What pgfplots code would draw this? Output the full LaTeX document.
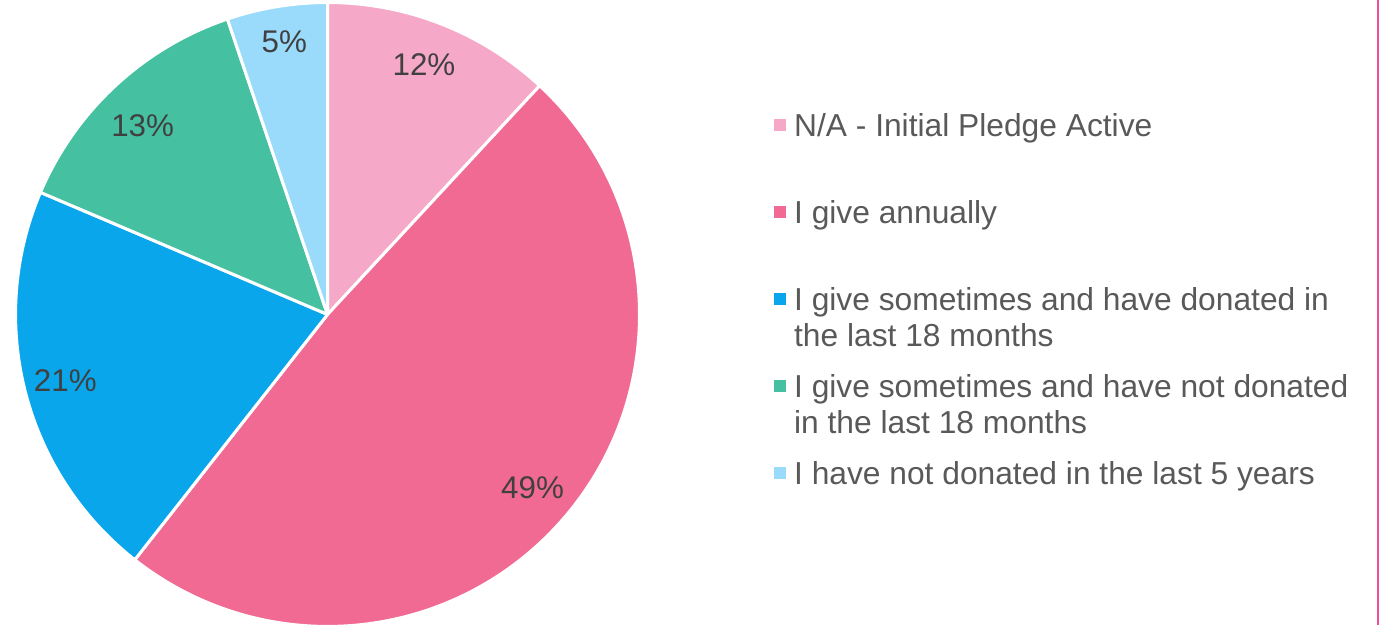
\documentclass[border=0pt]{standalone}
\usepackage{fontspec}
\setmainfont{Liberation Sans}
\usepackage{pgfplots}
\usepackage{pgfplotstable}
\pgfplotsset{compat=1.18}

\definecolor{cA}{HTML}{F6A8C8}
\definecolor{cB}{HTML}{F06A93}
\definecolor{cC}{HTML}{0AA6EC}
\definecolor{cD}{HTML}{45C1A2}
\definecolor{cE}{HTML}{9ADAFB}
\definecolor{lbl}{HTML}{404040}
\definecolor{leg}{HTML}{595959}
\definecolor{rline}{HTML}{F04E98}

\pgfplotstableread{
val lab
11.9 12
48.7 49
20.8 21
13.4 13
5.2 5
}\piedata

\pgfplotstablegetelem{0}{val}\of\piedata \edef\vA{\pgfplotsretval}
\pgfplotstablegetelem{1}{val}\of\piedata \edef\vB{\pgfplotsretval}
\pgfplotstablegetelem{2}{val}\of\piedata \edef\vC{\pgfplotsretval}
\pgfplotstablegetelem{3}{val}\of\piedata \edef\vD{\pgfplotsretval}
\pgfplotstablegetelem{4}{val}\of\piedata \edef\vE{\pgfplotsretval}
\pgfplotstablegetelem{0}{lab}\of\piedata \edef\lA{\pgfplotsretval}
\pgfplotstablegetelem{1}{lab}\of\piedata \edef\lB{\pgfplotsretval}
\pgfplotstablegetelem{2}{lab}\of\piedata \edef\lC{\pgfplotsretval}
\pgfplotstablegetelem{3}{lab}\of\piedata \edef\lD{\pgfplotsretval}
\pgfplotstablegetelem{4}{lab}\of\piedata \edef\lE{\pgfplotsretval}
\pgfmathsetmacro\aA{90}
\pgfmathsetmacro\aB{\aA-3.6*\vA}
\pgfmathsetmacro\aC{\aB-3.6*\vB}
\pgfmathsetmacro\aD{\aC-3.6*\vC}
\pgfmathsetmacro\aE{\aD-3.6*\vD}
\pgfmathsetmacro\aF{\aE-3.6*\vE}
\def\R{155.25pt}

\begin{document}
\begin{tikzpicture}
\begin{axis}[
  x=0.5pt, y=0.5pt,
  xmin=0, xmax=1379, ymin=0, ymax=622,
  hide axis,
]
\tikzset{wedge/.style={draw=white, line width=1.5pt, line join=round}}
\fill[cA, wedge] (axis cs:326,309) -- ++(\aA:\R) arc[start angle=\aA, end angle=\aB, radius=\R] -- cycle;
\fill[cB, wedge] (axis cs:326,309) -- ++(\aB:\R) arc[start angle=\aB, end angle=\aC, radius=\R] -- cycle;
\fill[cC, wedge] (axis cs:326,309) -- ++(\aC:\R) arc[start angle=\aC, end angle=\aD, radius=\R] -- cycle;
\fill[cD, wedge] (axis cs:326,309) -- ++(\aD:\R) arc[start angle=\aD, end angle=\aE, radius=\R] -- cycle;
\fill[cE, wedge] (axis cs:326,309) -- ++(\aE:\R) arc[start angle=\aE, end angle=\aF, radius=\R] -- cycle;

\tikzset{pl/.style={text=lbl, font=\fontsize{15.6}{18}\selectfont, inner sep=0pt}}
\node[pl] at (axis cs:422,558) {\lA\%};
\node[pl] at (axis cs:530,137) {\lB\%};
\node[pl] at (axis cs:65,243) {\lC\%};
\node[pl] at (axis cs:142,497) {\lD\%};
\node[pl] at (axis cs:283,580) {\lE\%};

\tikzset{lg/.style={text=leg, font=\fontsize{15.8}{18}\selectfont, inner sep=0pt, anchor=base west}}
\fill[cA] (axis cs:770,491.5) rectangle (axis cs:782,503.5);
\fill[cB] (axis cs:770,405) rectangle (axis cs:782,417);
\fill[cC] (axis cs:770,318) rectangle (axis cs:782,330);
\fill[cD] (axis cs:770,231.5) rectangle (axis cs:782,243.5);
\fill[cE] (axis cs:770,145) rectangle (axis cs:782,157);
\node[lg] at (axis cs:790,486.5) {N/A - Initial Pledge Active};
\node[lg] at (axis cs:790,400) {I give annually};
\node[lg] at (axis cs:790,313) {I give sometimes and have donated in};
\node[lg] at (axis cs:790,277) {the last 18 months};
\node[lg] at (axis cs:790,226.5) {I give sometimes and have not donated};
\node[lg] at (axis cs:790,190.5) {in the last 18 months};
\node[lg] at (axis cs:790,140) {I have not donated in the last 5 years};

\draw[rline, line width=1pt] (axis cs:1371.5,0) -- (axis cs:1371.5,622);
\end{axis}
\end{tikzpicture}
\end{document}
